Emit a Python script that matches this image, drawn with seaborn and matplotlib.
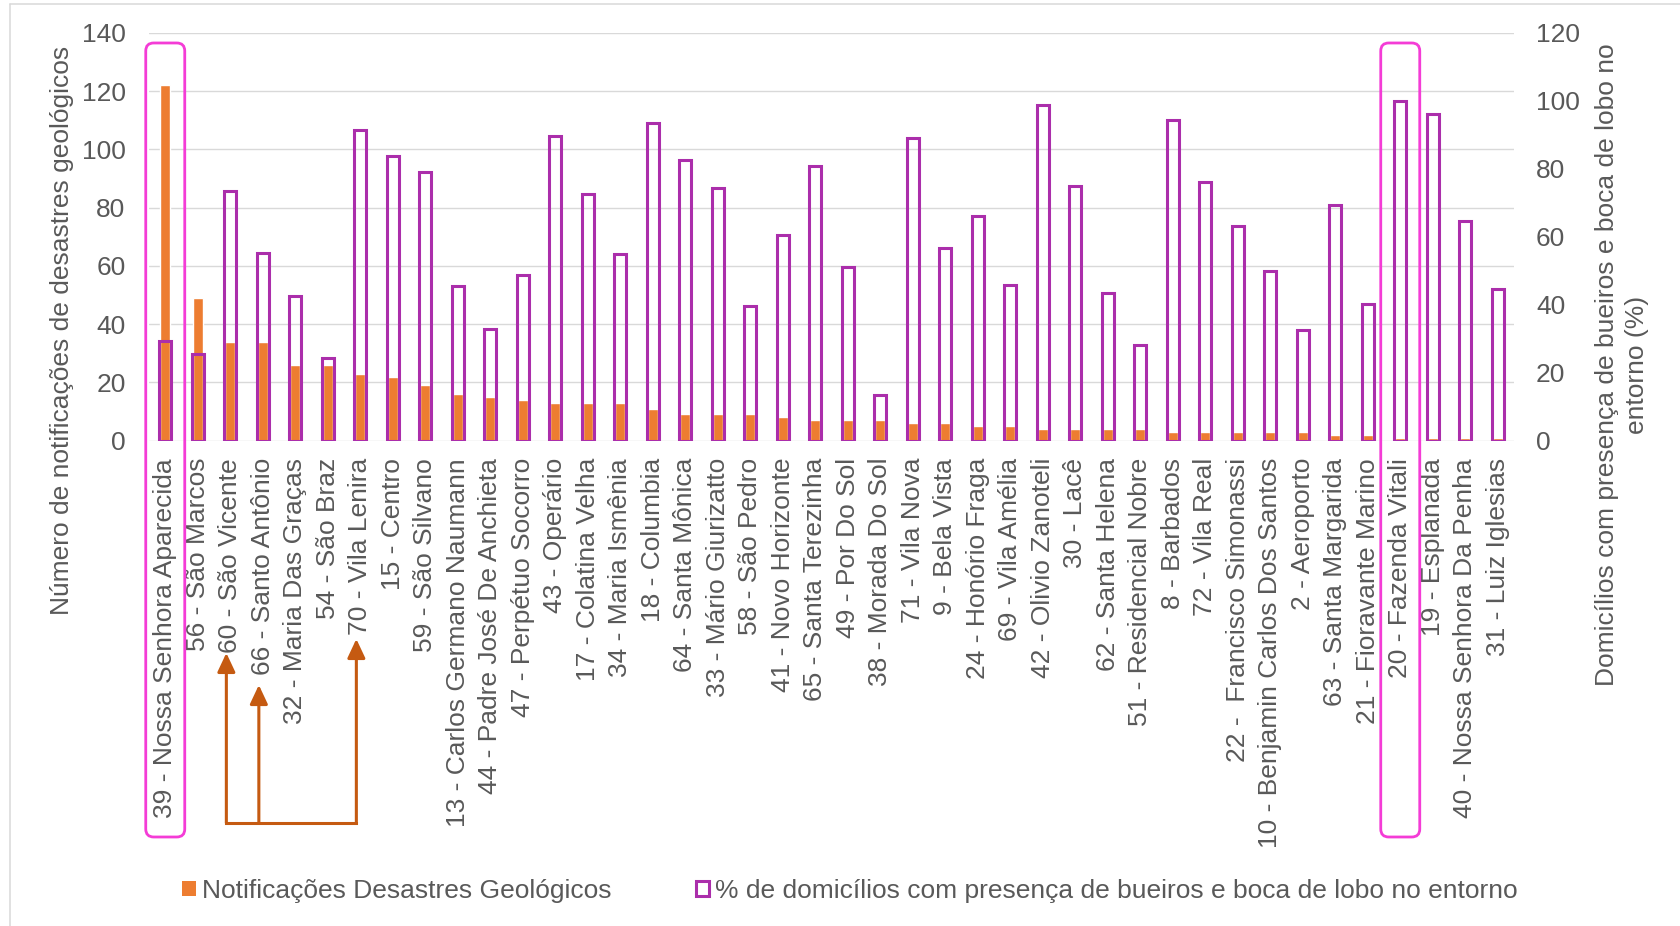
import matplotlib
matplotlib.use("Agg")
import matplotlib.pyplot as plt
import matplotlib.transforms as mtransforms
from matplotlib.patches import FancyBboxPatch, FancyArrowPatch, Patch
from matplotlib.lines import Line2D
import seaborn as sns
import pandas as pd

# ---- data -------------------------------------------------------------
categories = [
    "39 - Nossa Senhora Aparecida", "56 - São Marcos", "60 - São Vicente",
    "66 - Santo Antônio", "32 - Maria Das Graças", "54 - São Braz",
    "70 - Vila Lenira", "15 - Centro", "59 - São Silvano",
    "13 - Carlos Germano Naumann", "44 - Padre José De Anchieta",
    "47 - Perpétuo Socorro", "43 - Operário", "17 - Colatina Velha",
    "34 - Maria Ismênia", "18 - Columbia", "64 - Santa Mônica",
    "33 - Mário Giurizatto", "58 - São Pedro", "41 - Novo Horizonte",
    "65 - Santa Terezinha", "49 - Por Do Sol", "38 - Morada Do Sol",
    "71 - Vila Nova", "9 - Bela Vista", "24 - Honório Fraga",
    "69 - Vila Amélia", "42 - Olivio Zanoteli", "30 - Lacê",
    "62 - Santa Helena", "51 - Residencial Nobre", "8 - Barbados",
    "72 - Vila Real", "22 -  Francisco Simonassi",
    "10 - Benjamin Carlos Dos Santos", "2 - Aeroporto",
    "63 - Santa Margarida", "21 - Fioravante Marino", "20 - Fazenda Vitali",
    "19 - Esplanada", "40 - Nossa Senhora Da Penha", "31 - Luiz Iglesias",
]

notificacoes = [122, 49, 34, 34, 26, 26, 23, 22, 19, 16,
                15, 14, 13, 13, 13, 11, 9, 9, 9, 8,
                7, 7, 7, 6, 6, 5, 5, 4, 4, 4,
                4, 3, 3, 3, 3, 3, 2, 2, 1, 1,
                1, 1]

pct_bueiros = [29.4, 25.5, 73.5, 55.1, 42.7, 24.3, 91.4, 83.7, 79.1, 45.6,
               32.8, 48.7, 89.6, 72.6, 54.8, 93.5, 82.5, 74.5, 39.7, 60.5,
               80.9, 51.2, 13.4, 89.1, 56.7, 66.1, 45.7, 98.9, 75.0, 43.6,
               28.1, 94.5, 76.2, 63.1, 50.0, 32.5, 69.3, 40.2, 100.0, 96.3,
               64.7, 44.7]

left_ticks = [0, 20, 40, 60, 80, 100, 120, 140]
right_ticks = [0, 20, 40, 60, 80, 100, 120]

label_notif = "Notificações Desastres Geológicos"
label_pct = "% de domicílios com presença de bueiros e boca de lobo no entorno"
ylabel_left = "Número de notificações de desastres geológicos"
ylabel_right = "Domicílios com presença de bueiros e boca de lobo no\nentorno (%)"

highlighted = ["39 - Nossa Senhora Aparecida", "20 - Fazenda Vitali"]
pointed = ["60 - São Vicente", "66 - Santo Antônio", "70 - Vila Lenira"]

# ---- style ------------------------------------------------------------
ORANGE = "#ED7D31"
PURPLE = "#AB2EAB"
MAGENTA = "#F43CD6"
ARROW = "#C55A11"
TEXT = "#595959"
GRID = "#D9D9D9"
FS = 19

sns.set_theme(style="white")
plt.rcParams["font.family"] = ["Liberation Sans", "DejaVu Sans"]

W, H = 1681, 926
fig = plt.figure(figsize=(W / 100, H / 100), dpi=100)
fig.patch.set_facecolor("white")
ax = fig.add_axes([149 / W, 1 - 440.6 / H, 1365 / W, 407.6 / H])
ax2 = ax.twinx()

df = pd.DataFrame({"bairro": categories, "notif": notificacoes, "pct": pct_bueiros})

sns.barplot(data=df, x="bairro", y="notif", order=categories, color=ORANGE,
            saturation=1, width=0.3, errorbar=None, ax=ax, zorder=2)
sns.barplot(data=df, x="bairro", y="pct", order=categories, color=PURPLE,
            saturation=1, width=0.38, errorbar=None, fill=False,
            linewidth=2.2, ax=ax2)

n = len(categories)
for a in (ax, ax2):
    a.set_xlim(-0.5, n - 0.5)
    a.set_xlabel("")
    a.set_ylabel("")
    for s in a.spines.values():
        s.set_visible(False)
    a.autoscale(False)

ax.set_ylim(0, 140)
ax.set_yticks(left_ticks)
ax2.set_ylim(0, 120)
ax2.set_yticks(right_ticks)

ax.yaxis.grid(True, color=GRID, lw=1.0)
ax.xaxis.grid(False)
ax2.grid(False)
ax.set_axisbelow(True)

ax.tick_params(axis="y", length=0, pad=16.9, labelsize=FS, labelcolor=TEXT)
ax.tick_params(axis="x", length=0, pad=12.5, labelsize=FS, labelcolor=TEXT,
               labelrotation=90)
ax2.tick_params(axis="y", length=0, pad=15.8, labelsize=FS, labelcolor=TEXT)

# axis titles
fig.text(62 / W, 1 - 330 / H, ylabel_left, rotation=90, ha="center",
         va="center", fontsize=FS, color=TEXT)
fig.text(1622 / W, 1 - 365 / H, ylabel_right, rotation=90, ha="center",
         va="center", multialignment="center", fontsize=FS, color=TEXT,
         linespacing=1.3)

# legend
handles = [
    Patch(facecolor=ORANGE, edgecolor="none", label=label_notif),
    Patch(facecolor="white", edgecolor=PURPLE, lw=2.2, label=label_pct),
]
fig.legend(handles=handles, loc="center", bbox_to_anchor=(850 / W, 1 - 891 / H),
           ncol=2, frameon=False, fontsize=FS, handlelength=0.5,
           handleheight=0.5, handletextpad=0.23, columnspacing=3.2,
           borderpad=0, labelcolor=TEXT)

# chart-area border (left and top edges)
ident = mtransforms.IdentityTransform()
fig.add_artist(Line2D([9.5, 9.5], [-5, H - 4], transform=ident, color=GRID, lw=1.1))
fig.add_artist(Line2D([9.5, W + 5], [H - 4, H - 4], transform=ident, color=GRID, lw=1.1))

# rounded highlight boxes around selected neighbourhoods
for name in highlighted:
    k = categories.index(name)
    x0 = ax.transData.transform((k - 0.6, 0))[0]
    x1 = ax.transData.transform((k + 0.6, 0))[0]
    y0 = ax.transAxes.transform((0, -0.9725))[1]
    y1 = ax.transAxes.transform((0, 0.9755))[1]
    box = FancyBboxPatch((x0, y0), x1 - x0, y1 - y0,
                         boxstyle="round,pad=0,rounding_size=8",
                         transform=ident, fill=False, edgecolor=MAGENTA,
                         lw=2.0, zorder=5)
    fig.add_artist(box)

# bracket of arrows pointing to three neighbourhoods
trans = mtransforms.blended_transform_factory(ax.transData, ax.transAxes)
tips = [-0.521, -0.5996, -0.4867]
base = -0.938
xs = [categories.index(name) - 0.12 for name in pointed]
fig.add_artist(Line2D([min(xs), max(xs)], [base, base], transform=trans,
                      color=ARROW, lw=2.2, solid_capstyle="projecting",
                      zorder=5))
for x, tip in zip(xs, tips):
    arr = FancyArrowPatch((x, base), (x, tip), transform=trans,
                          arrowstyle="-|>,head_length=1.15,head_width=0.54",
                          mutation_scale=10, color=ARROW, lw=2.2,
                          shrinkA=0, shrinkB=0, zorder=5)
    fig.add_artist(arr)

fig.savefig("out.png", dpi=100, facecolor="white")
